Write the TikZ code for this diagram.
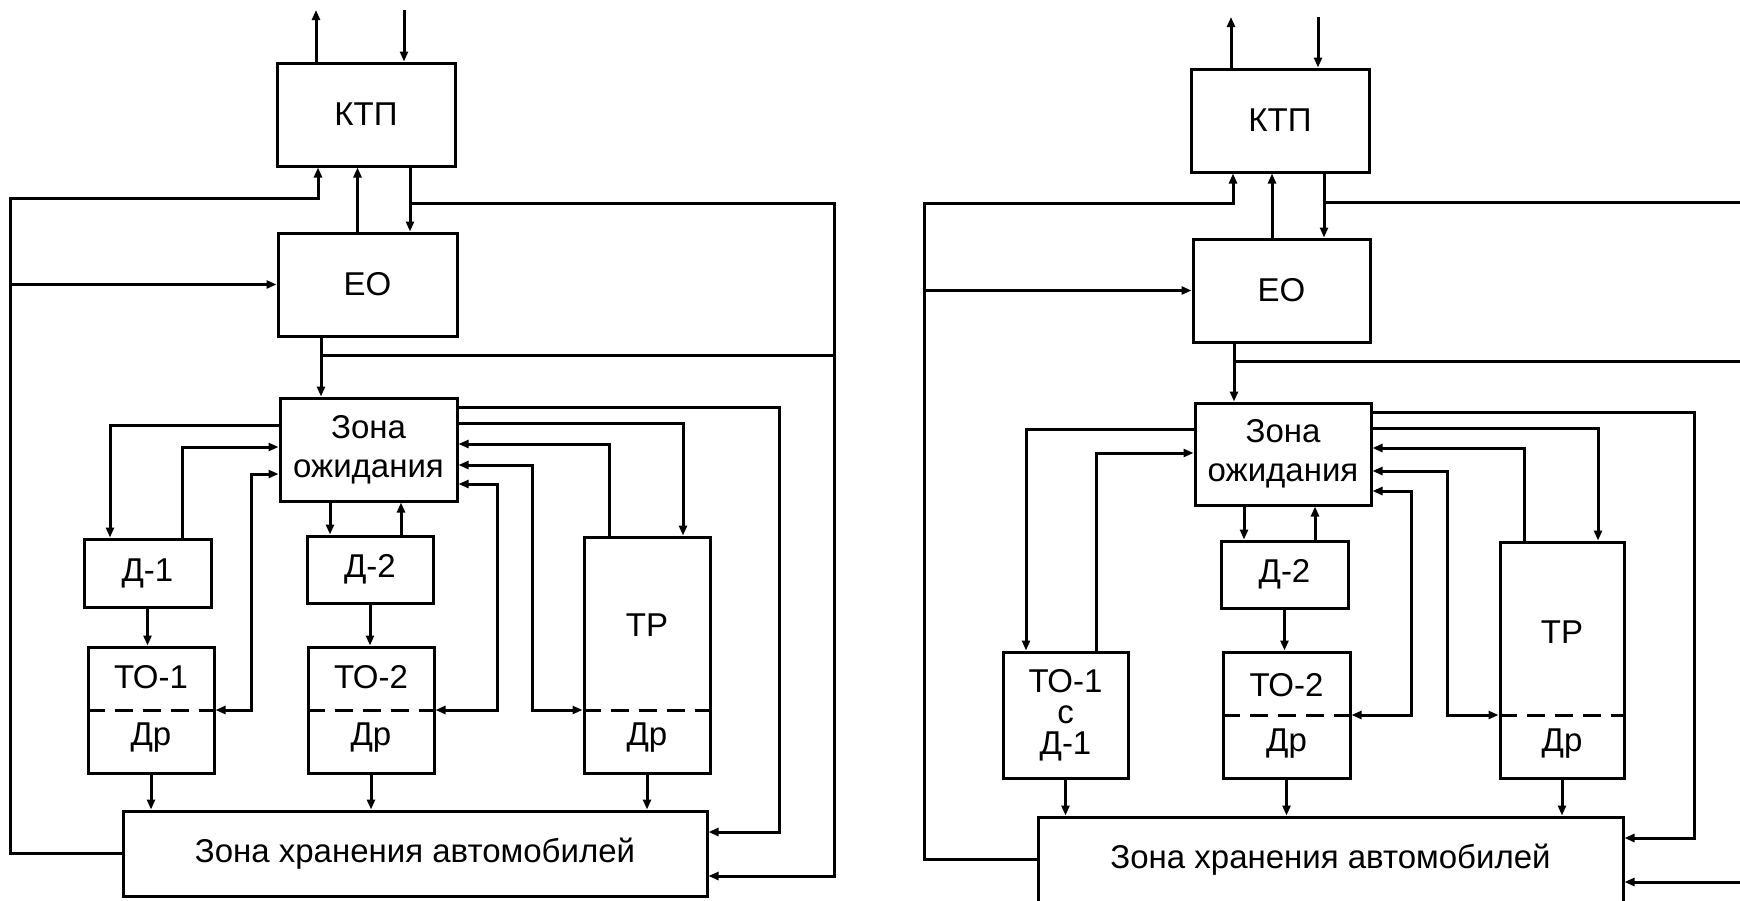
\documentclass[tikz,border=0pt]{standalone}
\usepackage{fontspec}
\setmainfont{Liberation Sans}
\usetikzlibrary{arrows.meta}
\tikzset{
>={Triangle[length=10pt, width=8pt]}, % small filled arrow heads
box/.style={draw, rectangle, inner sep=0pt, align=center}, % every block of the scheme
divider/.style={dash pattern=on 18pt off 10pt}, % dashed line inside a block
}

\begin{document}
\begin{tikzpicture}[x=1pt, y=-1pt, line width=3pt, font=\fontsize{33}{39}\selectfont]
    \useasboundingbox (0,0) rectangle (1740,900);
    \clip (0,0) rectangle (1740,900);

    % left scheme
    \node[box, minimum width=178pt, minimum height=103pt] (ktp1) at (366,114.5) {КТП};
    \node[box, minimum width=179pt, minimum height=103pt] (eo1) at (367.5,284.5) {ЕО};
    \node[box, minimum width=177pt, minimum height=103pt] (zone1) at (368.5,449.5) {Зона\\ожидания};
    \node[box, minimum width=127pt, minimum height=68pt] (d11) at (147.5,573) {Д-1};
    \node[box, minimum width=126pt, minimum height=67pt] (d21) at (370,569.5) {Д-2};
    \node[box, minimum width=126pt, minimum height=126pt] (to11) at (151,710) {};
    \node[box, minimum width=126pt, minimum height=126pt] (to21) at (371,710) {};
    \node[box, minimum width=126pt, minimum height=236pt] (tr1) at (647,655) {};
    \node[box, minimum width=584pt, minimum height=85pt] (st1) at (415,853.5) {Зона хранения автомобилей};

    \node (to11a) at ([yshift=33pt]to11.center) {ТО-1};
    \node (to11b) at ([yshift=-28pt]to11.center) {Др};
    \node (to21a) at ([yshift=33pt]to21.center) {ТО-2};
    \node (to21b) at ([yshift=-28pt]to21.center) {Др};
    \node (tr1a) at ([yshift=30pt]tr1.center) {ТР};
    \node (tr1b) at (tr1 |- to11b) {Др};
    \draw[divider] (to11.west) -- (to11.east);
    \draw[divider] (to21.west) -- (to21.east);
    \draw[divider] (tr1.west |- to11.center) -- (tr1.east |- to11.center);

    \coordinate (out1) at (316,10);
    \coordinate (in1) at (404,10);
    \coordinate (lft1) at (10,198);
    \coordinate (rgt1) at (834,203);
    \coordinate (eob1) at (321,355);

    \draw[->] (ktp1.north -| out1) -- (out1);
    \draw[->] (in1) -- (in1 |- ktp1.north);
    \draw[->] (st1.west) -| (lft1) -| ([xshift=-48pt]ktp1.south);
    \draw[->] (lft1 |- eo1.west) -- (eo1.west);
    \draw[->] ([xshift=-10pt]eo1.north) -- ([xshift=-10pt]eo1.north |- ktp1.south);
    \draw[->] ([xshift=44pt]ktp1.south) -- ([xshift=44pt]ktp1.south |- eo1.north);
    \draw[->] ([xshift=44pt]ktp1.south |- rgt1) -- (rgt1) |- ([yshift=-22.5pt]st1.east);
    \draw[->] ([xshift=-46.5pt]eo1.south) -- ([xshift=-46.5pt]eo1.south |- zone1.north);
    \draw (eob1) -- (eob1 -| rgt1);

    \draw[->] ([yshift=24.5pt]zone1.west) -| ([xshift=-37.5pt]d11.north);
    \draw[->] ([xshift=34.5pt]d11.north) |- ([yshift=2.5pt]zone1.west);
    \draw[<->] (to11.east) -- ++(36,0) |- ([yshift=-24.5pt]zone1.west);
    \draw[->] ([xshift=-38.5pt]zone1.south) -- ([xshift=-38.5pt]zone1.south |- d21.north);
    \draw[->] ([xshift=31pt]d21.north) -- ([xshift=31pt]d21.north |- zone1.south);
    \draw[->] (d11.south) -- (d11.south |- to11.north);
    \draw[->] (d21.south) -- (d21.south |- to21.north);
    \draw[->] (to11.south) -- (to11.south |- st1.north);
    \draw[->] (to21.south) -- (to21.south |- st1.north);
    \draw[->] (tr1.south) -- (tr1.south |- st1.north);

    \draw[->] ([yshift=42.5pt]zone1.east) -- ++(321,0) |- ([yshift=21.5pt]st1.east);
    \draw[->] ([yshift=26.5pt]zone1.east) -| ([xshift=36pt]tr1.north);
    \draw[->] ([xshift=-38pt]tr1.north) |- ([yshift=5.5pt]zone1.east);
    \draw[<->] (tr1.west |- to11.east) -- ++(-50,0) |- ([yshift=-15.5pt]zone1.east);
    \draw[<->] (to21.east) -- ++(62,0) |- ([yshift=-34.5pt]zone1.east);

    % right scheme
    \node[box, minimum width=178pt, minimum height=103pt] (ktp2) at (1280,120.5) {КТП};
    \node[box, minimum width=177pt, minimum height=103pt] (eo2) at (1281.5,290.5) {ЕО};
    \node[box, minimum width=176pt, minimum height=102pt] (zone2) at (1283,454) {Зона\\ожидания};
    \node[box, minimum width=125pt, minimum height=126pt, font=\fontsize{33}{31}\selectfont] (to12) at (1065.5,715) {ТО-1\\с\\Д-1};
    \node[box, minimum width=127pt, minimum height=67pt] (d22) at (1284.5,574.5) {Д-2};
    \node[box, minimum width=127pt, minimum height=126pt] (to22) at (1286.5,715) {};
    \node[box, minimum width=124pt, minimum height=236pt] (tr2) at (1562,660) {};
    \node[box, minimum width=585pt, minimum height=85pt] (st2) at (1330.5,859.5) {Зона хранения автомобилей};

    \node (to22a) at ([yshift=30pt]to22.center) {ТО-2};
    \node (to22b) at ([yshift=-29pt]to22.center) {Др};
    \node (tr2a) at ([yshift=28pt]tr2.center) {ТР};
    \node (tr2b) at (tr2 |- to22b) {Др};
    \draw[divider] (to22.west) -- (to22.east);
    \draw[divider] (tr2.west |- to22.center) -- (tr2.east |- to22.center);

    \coordinate (out2) at (1231,17);
    \coordinate (in2) at (1318,17);
    \coordinate (lft2) at (924,203);
    \coordinate (rgt2) at (1760,202);
    \coordinate (eob2) at (1234,361);

    \draw[->] (ktp2.north -| out2) -- (out2);
    \draw[->] (in2) -- (in2 |- ktp2.north);
    \draw[->] (st2.west) -| (lft2) -| ([xshift=-47pt]ktp2.south);
    \draw[->] (lft2 |- eo2.west) -- (eo2.west);
    \draw[->] ([xshift=-9.5pt]eo2.north) -- ([xshift=-9.5pt]eo2.north |- ktp2.south);
    \draw[->] ([xshift=44pt]ktp2.south) -- ([xshift=44pt]ktp2.south |- eo2.north);
    \draw[->] ([xshift=44pt]ktp2.south |- rgt2) -- (rgt2) |- ([yshift=-22.5pt]st2.east);
    \draw[->] ([xshift=-47.5pt]eo2.south) -- ([xshift=-47.5pt]eo2.south |- zone2.north);
    \draw (eob2) -- (eob2 -| rgt2);

    \draw[->] ([yshift=25pt]zone2.west) -| ([xshift=-39.5pt]to12.north);
    \draw[->] ([xshift=30.5pt]to12.north) |- ([yshift=1pt]zone2.west);
    \draw[->] ([xshift=-39pt]zone2.south) -- ([xshift=-39pt]zone2.south |- d22.north);
    \draw[->] ([xshift=30.5pt]d22.north) -- ([xshift=30.5pt]d22.north |- zone2.south);
    \draw[->] (d22.south) -- (d22.south |- to22.north);
    \draw[->] (to12.south) -- (to12.south |- st2.north);
    \draw[->] (to22.south) -- (to22.south |- st2.north);
    \draw[->] (tr2.south) -- (tr2.south |- st2.north);

    \draw[->] ([yshift=42pt]zone2.east) -- ++(322,0) |- ([yshift=21.5pt]st2.east);
    \draw[->] ([yshift=26pt]zone2.east) -| ([xshift=36pt]tr2.north);
    \draw[->] ([xshift=-38pt]tr2.north) |- ([yshift=6pt]zone2.east);
    \draw[<->] (tr2.west |- to22.east) -- ++(-51,0) |- ([yshift=-17pt]zone2.east);
    \draw[<->] (to22.east) -- ++(60,0) |- ([yshift=-37pt]zone2.east);
\end{tikzpicture}
\end{document}
